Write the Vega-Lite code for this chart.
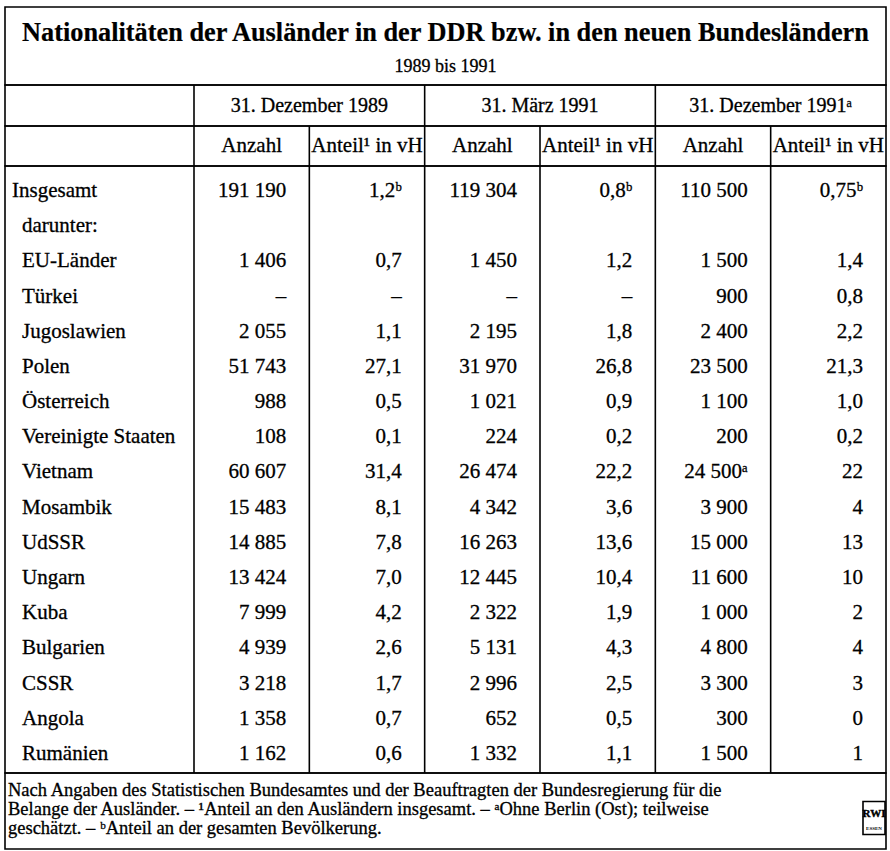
{
  "$schema": "https://vega.github.io/schema/vega-lite/v6.json",
  "background": "white",
  "padding": {"left": 4, "top": 6, "right": 5, "bottom": 3},
  "spacing": 0,
  "bounds": "flush",
  "config": {
    "font": "Liberation Serif",
    "view": {"stroke": "black", "strokeWidth": 1.6},
    "concat": {"spacing": 0},
    "text": {"color": "black", "baseline": "middle", "font": "Liberation Serif", "stroke": "black", "strokeWidth": 0.3},
    "rule": {"color": "black", "strokeWidth": 1.6}
  },
  "datasets": {
    "tabelle": [
      {"land": "Insgesamt", "ebene": "gesamt", "Anzahl_1989": "191 190", "Anteil_1989": "1,2ᵇ", "Anzahl_Maerz1991": "119 304", "Anteil_Maerz1991": "0,8ᵇ", "Anzahl_Dez1991": "110 500", "Anteil_Dez1991": "0,75ᵇ"},
      {"land": "darunter:", "ebene": "unter"},
      {"land": "EU-Länder", "ebene": "land", "Anzahl_1989": "1 406", "Anteil_1989": "0,7", "Anzahl_Maerz1991": "1 450", "Anteil_Maerz1991": "1,2", "Anzahl_Dez1991": "1 500", "Anteil_Dez1991": "1,4"},
      {"land": "Türkei", "ebene": "land", "Anzahl_1989": "–", "Anteil_1989": "–", "Anzahl_Maerz1991": "–", "Anteil_Maerz1991": "–", "Anzahl_Dez1991": "900", "Anteil_Dez1991": "0,8"},
      {"land": "Jugoslawien", "ebene": "land", "Anzahl_1989": "2 055", "Anteil_1989": "1,1", "Anzahl_Maerz1991": "2 195", "Anteil_Maerz1991": "1,8", "Anzahl_Dez1991": "2 400", "Anteil_Dez1991": "2,2"},
      {"land": "Polen", "ebene": "land", "Anzahl_1989": "51 743", "Anteil_1989": "27,1", "Anzahl_Maerz1991": "31 970", "Anteil_Maerz1991": "26,8", "Anzahl_Dez1991": "23 500", "Anteil_Dez1991": "21,3"},
      {"land": "Österreich", "ebene": "land", "Anzahl_1989": "988", "Anteil_1989": "0,5", "Anzahl_Maerz1991": "1 021", "Anteil_Maerz1991": "0,9", "Anzahl_Dez1991": "1 100", "Anteil_Dez1991": "1,0"},
      {"land": "Vereinigte Staaten", "ebene": "land", "Anzahl_1989": "108", "Anteil_1989": "0,1", "Anzahl_Maerz1991": "224", "Anteil_Maerz1991": "0,2", "Anzahl_Dez1991": "200", "Anteil_Dez1991": "0,2"},
      {"land": "Vietnam", "ebene": "land", "Anzahl_1989": "60 607", "Anteil_1989": "31,4", "Anzahl_Maerz1991": "26 474", "Anteil_Maerz1991": "22,2", "Anzahl_Dez1991": "24 500ᵃ", "Anteil_Dez1991": "22"},
      {"land": "Mosambik", "ebene": "land", "Anzahl_1989": "15 483", "Anteil_1989": "8,1", "Anzahl_Maerz1991": "4 342", "Anteil_Maerz1991": "3,6", "Anzahl_Dez1991": "3 900", "Anteil_Dez1991": "4"},
      {"land": "UdSSR", "ebene": "land", "Anzahl_1989": "14 885", "Anteil_1989": "7,8", "Anzahl_Maerz1991": "16 263", "Anteil_Maerz1991": "13,6", "Anzahl_Dez1991": "15 000", "Anteil_Dez1991": "13"},
      {"land": "Ungarn", "ebene": "land", "Anzahl_1989": "13 424", "Anteil_1989": "7,0", "Anzahl_Maerz1991": "12 445", "Anteil_Maerz1991": "10,4", "Anzahl_Dez1991": "11 600", "Anteil_Dez1991": "10"},
      {"land": "Kuba", "ebene": "land", "Anzahl_1989": "7 999", "Anteil_1989": "4,2", "Anzahl_Maerz1991": "2 322", "Anteil_Maerz1991": "1,9", "Anzahl_Dez1991": "1 000", "Anteil_Dez1991": "2"},
      {"land": "Bulgarien", "ebene": "land", "Anzahl_1989": "4 939", "Anteil_1989": "2,6", "Anzahl_Maerz1991": "5 131", "Anteil_Maerz1991": "4,3", "Anzahl_Dez1991": "4 800", "Anteil_Dez1991": "4"},
      {"land": "CSSR", "ebene": "land", "Anzahl_1989": "3 218", "Anteil_1989": "1,7", "Anzahl_Maerz1991": "2 996", "Anteil_Maerz1991": "2,5", "Anzahl_Dez1991": "3 300", "Anteil_Dez1991": "3"},
      {"land": "Angola", "ebene": "land", "Anzahl_1989": "1 358", "Anteil_1989": "0,7", "Anzahl_Maerz1991": "652", "Anteil_Maerz1991": "0,5", "Anzahl_Dez1991": "300", "Anteil_Dez1991": "0"},
      {"land": "Rumänien", "ebene": "land", "Anzahl_1989": "1 162", "Anteil_1989": "0,6", "Anzahl_Maerz1991": "1 332", "Anteil_Maerz1991": "1,1", "Anzahl_Dez1991": "1 500", "Anteil_Dez1991": "1"}
    ],
    "spalten": [
      {"spalte": "Anzahl_1989", "kopf": "Anzahl"},
      {"spalte": "Anteil_1989", "kopf": "Anteil¹ in vH"},
      {"spalte": "Anzahl_Maerz1991", "kopf": "Anzahl"},
      {"spalte": "Anteil_Maerz1991", "kopf": "Anteil¹ in vH"},
      {"spalte": "Anzahl_Dez1991", "kopf": "Anzahl"},
      {"spalte": "Anteil_Dez1991", "kopf": "Anteil¹ in vH"}
    ],
    "perioden": [
      {"periode": "31. Dezember 1989"},
      {"periode": "31. März 1991"},
      {"periode": "31. Dezember 1991ᵃ"}
    ],
    "kopf": [
      {"zeile": "Titel", "text": "Nationalitäten der Ausländer in der DDR bzw. in den neuen Bundesländern"},
      {"zeile": "Untertitel", "text": "1989 bis 1991"}
    ],
    "fussnoten": [
      {"zeile": 1, "text": "Nach Angaben des Statistischen Bundesamtes und der Beauftragten der Bundesregierung für die"},
      {"zeile": 2, "text": "Belange der Ausländer. – ¹Anteil an den Ausländern insgesamt. – ᵃOhne Berlin (Ost); teilweise"},
      {"zeile": 3, "text": "geschätzt. – ᵇAnteil an der gesamten Bevölkerung."}
    ],
    "logo": [
      {"name": "RWI", "ort": "ESSEN"}
    ]
  },
  "vconcat": [
    {
      "width": 881,
      "height": 78,
      "data": {"name": "kopf"},
      "encoding": {
        "y": {"field": "zeile", "type": "nominal", "axis": null,
              "scale": {"type": "point", "domain": ["Titel", "Untertitel"], "padding": 0.65, "align": 0.59}},
        "text": {"field": "text"}
      },
      "layer": [
        {"transform": [{"filter": "datum.zeile == 'Titel'"}],
         "mark": {"type": "text", "fontSize": 26.3, "fontWeight": "bold", "strokeWidth": 0.2}},
        {"transform": [{"filter": "datum.zeile == 'Untertitel'"}],
         "mark": {"type": "text", "fontSize": 18}}
      ]
    },
    {
      "width": 881,
      "height": 41,
      "data": {"name": "perioden"},
      "encoding": {
        "x": {"field": "periode", "type": "nominal", "axis": null,
              "scale": {"type": "band", "domain": ["31. Dezember 1989", "31. März 1991", "31. Dezember 1991ᵃ"], "paddingInner": 0, "paddingOuter": 0.40968, "align": 1}}
      },
      "layer": [
        {"mark": {"type": "rule"}, "encoding": {"x": {"field": "periode", "type": "nominal", "bandPosition": 0}}},
        {"mark": {"type": "text", "fontSize": 20}, "encoding": {"text": {"field": "periode"}}}
      ]
    },
    {
      "width": 881,
      "height": 40,
      "data": {"name": "spalten"},
      "encoding": {
        "x": {"field": "spalte", "type": "nominal", "axis": null,
              "scale": {"type": "band", "domain": ["Anzahl_1989", "Anteil_1989", "Anzahl_Maerz1991", "Anteil_Maerz1991", "Anzahl_Dez1991", "Anteil_Dez1991"], "paddingInner": 0, "paddingOuter": 0.819364, "align": 1}}
      },
      "layer": [
        {"mark": {"type": "rule"}, "encoding": {"x": {"field": "spalte", "type": "nominal", "bandPosition": 0}}},
        {"mark": {"type": "text", "fontSize": 21}, "encoding": {"text": {"field": "kopf"}}}
      ]
    },
    {
      "width": 881,
      "height": 607,
      "resolve": {"scale": {"x": "independent"}},
      "layer": [
        {
          "data": {"name": "spalten"},
          "mark": {"type": "rule"},
          "encoding": {
            "x": {"field": "spalte", "type": "nominal", "bandPosition": 0, "axis": null,
                  "scale": {"type": "band", "domain": ["Anzahl_1989", "Anteil_1989", "Anzahl_Maerz1991", "Anteil_Maerz1991", "Anzahl_Dez1991", "Anteil_Dez1991"], "paddingInner": 0, "paddingOuter": 0.819364, "align": 1}}
          }
        },
        {
          "data": {"name": "tabelle"},
          "transform": [
            {"fold": ["Anzahl_1989", "Anteil_1989", "Anzahl_Maerz1991", "Anteil_Maerz1991", "Anzahl_Dez1991", "Anteil_Dez1991"], "as": ["spalte", "wert"]},
            {"filter": "isValid(datum.wert)"}
          ],
          "mark": {"type": "text", "align": "right", "dx": -23, "fontSize": 21},
          "encoding": {
            "x": {"field": "spalte", "type": "nominal", "bandPosition": 1, "axis": null,
                  "scale": {"type": "band", "domain": ["Anzahl_1989", "Anteil_1989", "Anzahl_Maerz1991", "Anteil_Maerz1991", "Anzahl_Dez1991", "Anteil_Dez1991"], "paddingInner": 0, "paddingOuter": 0.819364, "align": 1}},
            "y": {"field": "land", "type": "nominal", "axis": null,
                  "scale": {"type": "band", "domain": ["Insgesamt", "darunter:", "EU-Länder", "Türkei", "Jugoslawien", "Polen", "Österreich", "Vereinigte Staaten", "Vietnam", "Mosambik", "UdSSR", "Ungarn", "Kuba", "Bulgarien", "CSSR", "Angola", "Rumänien"], "paddingInner": 0, "paddingOuter": 0.127, "align": 0.83}},
            "text": {"field": "wert"}
          }
        },
        {
          "data": {"name": "tabelle"},
          "encoding": {
            "x": {"datum": "Land", "type": "nominal", "bandPosition": 0, "axis": null,
                  "scale": {"type": "band", "domain": ["Land"], "paddingInner": 0, "paddingOuter": 0}},
            "y": {"field": "land", "type": "nominal", "axis": null},
            "text": {"field": "land"}
          },
          "layer": [
            {"transform": [{"filter": "datum.ebene == 'gesamt'"}],
             "mark": {"type": "text", "align": "left", "dx": 7, "fontSize": 21}},
            {"transform": [{"filter": "datum.ebene != 'gesamt'"}],
             "mark": {"type": "text", "align": "left", "dx": 17, "fontSize": 21}}
          ]
        }
      ]
    },
    {
      "width": 881,
      "height": 76,
      "layer": [
        {
          "data": {"name": "fussnoten"},
          "mark": {"type": "text", "align": "left", "dx": -9, "fontSize": 18.5},
          "encoding": {
            "x": {"datum": "Text", "type": "nominal", "axis": null,
                  "scale": {"type": "point", "domain": ["Text", "Logo"], "padding": 0.014}},
            "y": {"field": "zeile", "type": "quantitative", "axis": null,
                  "scale": {"domain": [0.105, 4.105], "reverse": true, "nice": false, "zero": false}},
            "text": {"field": "text"}
          }
        },
        {
          "data": {"name": "logo"},
          "mark": {"type": "point", "shape": "M-0.667,-1H0.667V1H-0.667Z", "size": 1089, "filled": false, "stroke": "black", "strokeWidth": 1.6, "opacity": 1},
          "encoding": {
            "x": {"datum": "Logo", "type": "nominal"},
            "y": {"datum": 2.474, "type": "quantitative"}
          }
        },
        {
          "data": {"name": "logo"},
          "mark": {"type": "text", "fontSize": 11, "fontWeight": "bold", "dy": -4, "strokeWidth": 0.4},
          "encoding": {
            "x": {"datum": "Logo", "type": "nominal"},
            "y": {"datum": 2.474, "type": "quantitative"},
            "text": {"field": "name"}
          }
        },
        {
          "data": {"name": "logo"},
          "mark": {"type": "text", "fontSize": 5, "fontWeight": "bold", "dy": 10, "strokeWidth": 0},
          "encoding": {
            "x": {"datum": "Logo", "type": "nominal"},
            "y": {"datum": 2.474, "type": "quantitative"},
            "text": {"field": "ort"}
          }
        }
      ]
    }
  ]
}
